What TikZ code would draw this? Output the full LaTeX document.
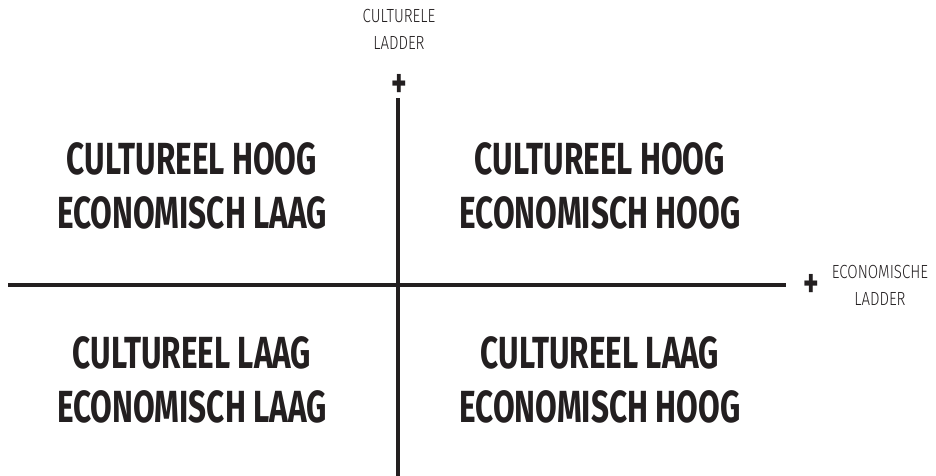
\documentclass[tikz,border=0pt]{standalone}
\usepackage{fontspec}
\setmainfont{Fira Sans}
\newfontfamily\quadfont[FakeStretch=0.70]{Fira Sans}
\newfontfamily\axisfont[FakeStretch=0.79]{Fira Sans Light}
\definecolor{ink}{HTML}{231F20}
\tikzset{
  quad/.style={align=center, inner sep=0pt, text=ink,
    font=\quadfont\bfseries\fontsize{45}{54}\selectfont},
  axislabel/.style={align=center, inner sep=0pt, text=ink,
    font=\axisfont\fontsize{19}{27}\selectfont},
  plus/.style={inner sep=0pt, text=ink,
    font=\quadfont\bfseries\fontsize{42}{42}\selectfont},
  axis/.style={draw=ink, line width=3.2pt}
}
\begin{document}
\begin{tikzpicture}[x=1pt, y=-1pt]
\useasboundingbox (0,0) rectangle (936,476);
% axes
\coordinate (W) at (8,285);
\coordinate (E) at (786,285);
\coordinate (S) at (398,476);
\coordinate (N) at (398,98);
\draw [axis] (W) -- (E);
\draw [axis] (S) -- (N);
\node [plus] (plusN) at (399,86) {+};
\node [plus] (plusE) at (811,286) {+};
\node [axislabel] (cultLadder) at (399,29) {CULTURELE\\LADDER};
\node [axislabel] (econLadder) at (880,285) {ECONOMISCHE\\LADDER};
% quadrants
\node [quad] (HL) at (192,186) {CULTUREEL HOOG\\ECONOMISCH LAAG};
\node [quad] (HH) at (600,186) {CULTUREEL HOOG\\ECONOMISCH HOOG};
\node [quad] (LL) at (192,380) {CULTUREEL LAAG\\ECONOMISCH LAAG};
\node [quad] (LH) at (600,380) {CULTUREEL LAAG\\ECONOMISCH HOOG};
\end{tikzpicture}
\end{document}
